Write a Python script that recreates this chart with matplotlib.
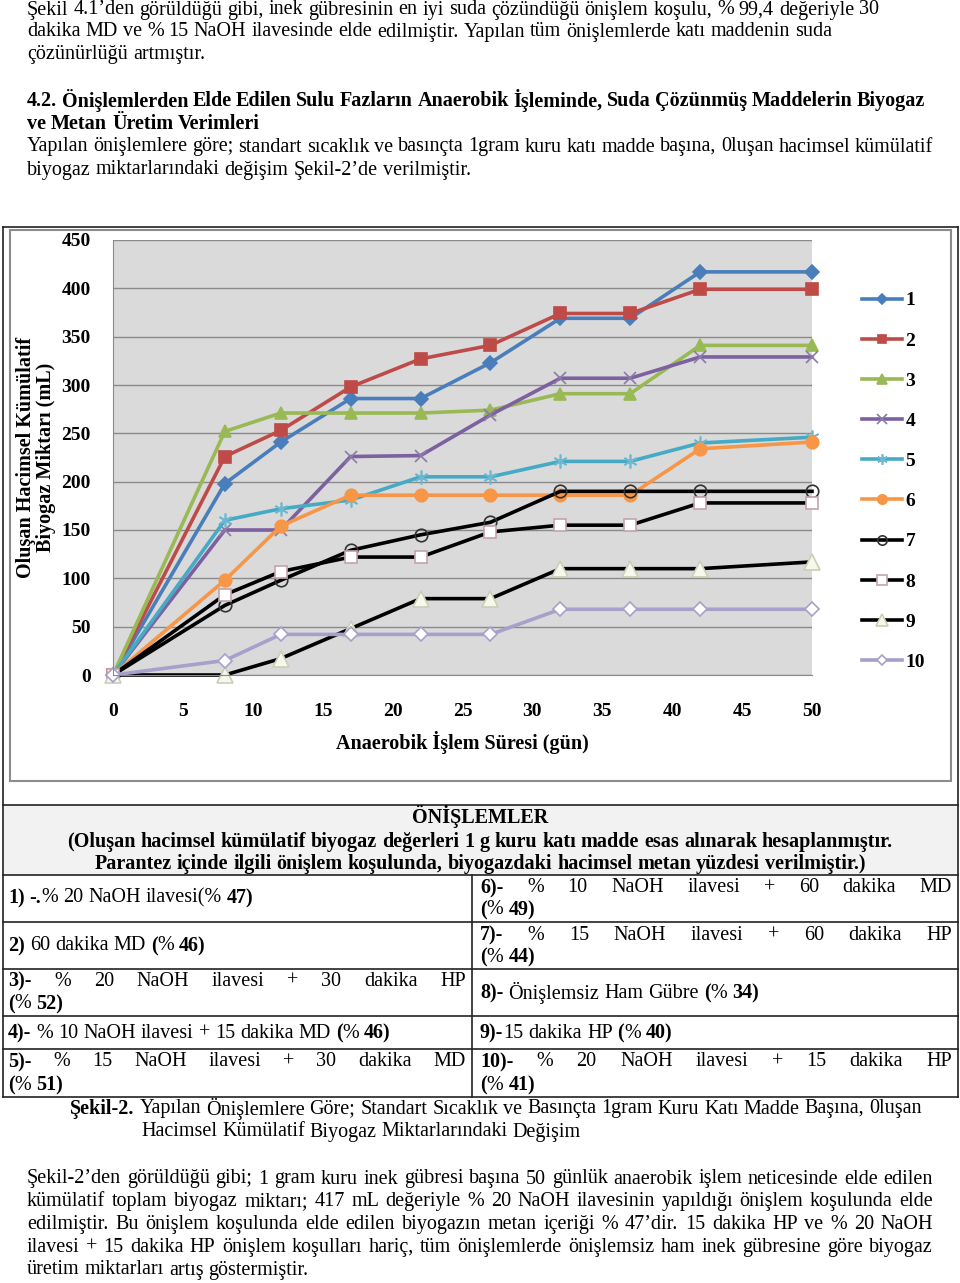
import matplotlib
matplotlib.use('Agg')
import matplotlib.pyplot as plt
from matplotlib.patches import Rectangle

plt.rcParams['font.family'] = ['Liberation Serif', 'DejaVu Serif']

W, H = 960, 1283

# Kümülatif biyogaz (mL / g KM) - günlere göre
days = [0, 8, 12, 17, 22, 27, 32, 37, 42, 50]
s1 = [0, 198, 241, 286, 286, 323, 369, 369, 417, 417]
s2 = [0, 226, 253, 298, 327, 341, 374, 374, 399, 399]
s3 = [0, 252, 271, 271, 271, 274, 291, 291, 341, 341]
s4 = [0, 150, 150, 226, 227, 269, 307, 307, 329, 329]
s5 = [0, 160, 172, 181, 205, 205, 221, 221, 240, 246]
s6 = [0, 98, 154, 186, 186, 186, 186, 186, 234, 241]
s7 = [0, 72, 98, 129, 145, 158, 190, 190, 190, 190]
s8 = [0, 83, 107, 122, 122, 148, 155, 155, 178, 178]
s9 = [0, 0, 17, 48, 79, 79, 110, 110, 110, 117]
s10 = [0, 15, 42, 42, 42, 42, 68, 68, 68, 68]
series = [s1, s2, s3, s4, s5, s6, s7, s8, s9, s10]
labels = ['1', '2', '3', '4', '5', '6', '7', '8', '9', '10']

xticks = list(range(0, 51, 5))
yticks = list(range(0, 451, 50))

# stil: renk, marker, marker yüzü, marker kenarı, boyut
styles = [
    ('#4a7ebb', 'D', '#4a7ebb', '#4a7ebb', 7),
    ('#be4b48', 's', '#be4b48', '#be4b48', 8),
    ('#98b954', '^', '#98b954', '#98b954', 9),
    ('#7d60a0', 'x', 'none', '#8c7aa8', 9),
    ('#46aac5', (6, 2, 0), 'none', '#6cb8d0', 10),
    ('#f79646', 'o', '#f79646', '#f79646', 9),
    ('black', 'o', 'none', '#333333', 9),
    ('black', 's', 'white', '#c4a4ac', 9),
    ('black', '^', '#f6f8ee', '#c8d0b4', 11),
    ('#a99fcb', 'D', 'white', '#a99fcb', 7),
]

TXT = 14.5

fig = plt.figure(figsize=(W / 100, H / 100), dpi=100)
bg = fig.add_axes([0, 0, 1, 1])
bg.set_xlim(0, W)
bg.set_ylim(H, 0)
bg.axis('off')
rend = fig.canvas.get_renderer()

# tablo ve grafik çerçeveleri
bg.add_patch(Rectangle((3, 805), 954, 70, facecolor='#f2f2f2', edgecolor='none'))
for y in [227, 805, 875, 922, 969, 1016, 1049, 1097]:
    bg.plot([2.5, 957.5], [y, y], color='#222222', lw=1.2)
bg.plot([2.5, 2.5], [227, 1097], color='#222222', lw=1.2)
bg.plot([957.5, 957.5], [227, 1097], color='#222222', lw=1.2)
bg.plot([472, 472], [875, 1097], color='#222222', lw=1.2)
bg.add_patch(Rectangle((10, 230), 941, 551, facecolor='white', edgecolor='#8c8c8c', lw=1.5))


def width_of(t):
    return t.get_window_extent(renderer=rend).width


def parse(s):
    words, bold = [], False
    for w in s.split():
        pieces = []
        for i, p in enumerate(w.split('**')):
            if i:
                bold = not bold
            if p:
                pieces.append((p, bold))
        if pieces:
            words.append(pieces)
    return words


def space_width(size, weight):
    a = bg.text(0, 0, 'x x', fontsize=size, fontweight=weight)
    b = bg.text(0, 0, 'xx', fontsize=size, fontweight=weight)
    w = width_of(a) - width_of(b)
    a.remove()
    b.remove()
    return w


def line(s, y, x0, x1=None, size=TXT, weight='normal', align='left'):
    placed, total = [], 0
    for pieces in parse(s):
        grp = []
        for p, b in pieces:
            t = bg.text(0, y, p, fontsize=size, va='center', ha='left',
                        fontweight='bold' if (b or weight == 'bold') else 'normal')
            grp.append((t, width_of(t)))
        placed.append(grp)
        total += sum(g[1] for g in grp)
    n = len(placed)
    gap = space_width(size, weight)
    if align == 'justify' and n > 1:
        gap = (x1 - x0 - total) / (n - 1)
    x = x0 - (total + gap * (n - 1)) / 2 if align == 'center' else x0
    for grp in placed:
        for t, w in grp:
            t.set_x(x)
            x += w
        x += gap


# üst paragraflar
line('Şekil 4.1’den görüldüğü gibi, inek gübresinin en iyi suda çözündüğü önişlem koşulu,  % 99,4 değeriyle 30', 10, 27)
line('dakika  MD ve % 15 NaOH ilavesinde elde edilmiştir. Yapılan tüm önişlemlerde katı maddenin suda', 32, 27)
line('çözünürlüğü artmıştır.', 55, 27)
line('4.2. Önişlemlerden Elde Edilen Sulu Fazların Anaerobik İşleminde, Suda Çözünmüş Maddelerin Biyogaz',
     101, 27, 925, weight='bold', align='justify')
line('ve Metan Üretim Verimleri', 124, 27, weight='bold')
line('Yapılan önişlemlere göre; standart sıcaklık ve basınçta 1gram kuru katı madde başına, 0luşan hacimsel kümülatif',
     147, 27, 933, align='justify')
line('biyogaz miktarlarındaki değişim Şekil-2’de verilmiştir.', 170, 27)

# tablo
line('ÖNİŞLEMLER', 817, 480, weight='bold', align='center')
line('(Oluşan hacimsel kümülatif biyogaz değerleri 1 g kuru katı madde esas alınarak hesaplanmıştır.',
     842, 480, weight='bold', align='center')
line('Parantez içinde ilgili önişlem koşulunda, biyogazdaki hacimsel metan yüzdesi verilmiştir.)',
     864, 480, weight='bold', align='center')

L0, L1, R0, R1 = 8, 466, 480, 952
line('**1) -.**% 20 NaOH ilavesi(% **47)**', 898, L0)
line('**6)-** % 10 NaOH ilavesi + 60 dakika MD', 888, R0, R1, align='justify')
line('**(**% **49)**', 910, R0)
line('**2)** 60 dakika MD **(**% **46)**', 946, L0)
line('**7)-** % 15 NaOH ilavesi + 60 dakika HP', 935, R0, R1, align='justify')
line('**(**% **44)**', 957, R0)
line('**3)-** % 20 NaOH ilavesi + 30 dakika HP', 981, L0, L1, align='justify')
line('**(**% **52)**', 1004, L0)
line('**8)-** Önişlemsiz Ham Gübre **(**% **34)**', 993, R0)
line('**4)-** % 10 NaOH ilavesi + 15 dakika MD **(**% **46)**', 1033, L0)
line('**9)-**15 dakika HP **(**% **40)**', 1033, R0)
line('**5)-** % 15 NaOH ilavesi + 30 dakika MD', 1062, L0, L1, align='justify')
line('**(**% **51)**', 1085, L0)
line('**10)-** % 20 NaOH ilavesi + 15 dakika HP', 1062, R0, R1, align='justify')
line('**(**% **41)**', 1085, R0)

# şekil başlığı
line('**Şekil-2.** Yapılan Önişlemlere Göre; Standart Sıcaklık ve Basınçta 1gram Kuru Katı Madde Başına, 0luşan', 1109, 70)
line('Hacimsel Kümülatif Biyogaz Miktarlarındaki Değişim', 1132, 141)

# alt paragraf
para = [
    'Şekil-2’den görüldüğü gibi; 1 gram kuru inek gübresi başına 50 günlük anaerobik işlem neticesinde elde edilen',
    'kümülatif toplam biyogaz miktarı; 417 mL değeriyle % 20 NaOH ilavesinin yapıldığı önişlem koşulunda elde',
    'edilmiştir.  Bu önişlem koşulunda elde edilen biyogazın metan içeriği % 47’dir. 15 dakika HP ve % 20 NaOH',
    'ilavesi + 15 dakika HP  önişlem koşulları hariç, tüm önişlemlerde önişlemsiz ham inek gübresine göre biyogaz',
]
for i, s in enumerate(para):
    line(s, 1179 + i * 22.7, 27, 933, align='justify')
line('üretim miktarları artış göstermiştir.', 1270, 27)

# grafik
ax = fig.add_axes([113 / W, 1 - 675 / H, 699 / W, 435 / H])
ax.set_facecolor('#dadada')
for ys, lab, (c, m, fc, ec, ms) in zip(series, labels, styles):
    ax.plot(days, ys, color=c, lw=2.6, marker=m, markerfacecolor=fc, markeredgecolor=ec,
            markersize=ms, markeredgewidth=1.2, label=lab, clip_on=False)
ax.set_xlim(0, 50)
ax.set_ylim(0, 450)
ax.set_xticks(xticks)
ax.set_yticks(yticks)
ax.grid(axis='y', color='#8a8a8a', lw=1)
ax.set_axisbelow(True)
for side in ['top', 'right']:
    ax.spines[side].set_visible(False)
for side in ['left', 'bottom']:
    ax.spines[side].set_color('#8a8a8a')
ax.tick_params(length=0, labelsize=14)
ax.tick_params(axis='y', pad=16)
ax.tick_params(axis='x', pad=20)
for t in ax.get_xticklabels() + ax.get_yticklabels():
    t.set_fontweight('bold')
ax.set_xlabel('Anaerobik İşlem Süresi (gün)', fontsize=14.5, fontweight='bold', va='center')
ax.xaxis.set_label_coords(0.5, (675 - 743) / 435)
ax.set_ylabel('Oluşan Hacimsel Kümülatif\nBiyogaz Miktarı (mL)', fontsize=14.5,
              fontweight='bold', va='center', linespacing=0.95)
ax.yaxis.set_label_coords((36 - 113) / 699, 0.5)

fig.legend(loc='upper left', bbox_to_anchor=(854 / W, 1 - 284 / H), frameon=False,
           prop={'size': 14, 'weight': 'bold'}, handlelength=2.05, handletextpad=0.2,
           labelspacing=1.16, markerscale=0.75, borderaxespad=0)

fig.savefig('out.png', dpi=100)
